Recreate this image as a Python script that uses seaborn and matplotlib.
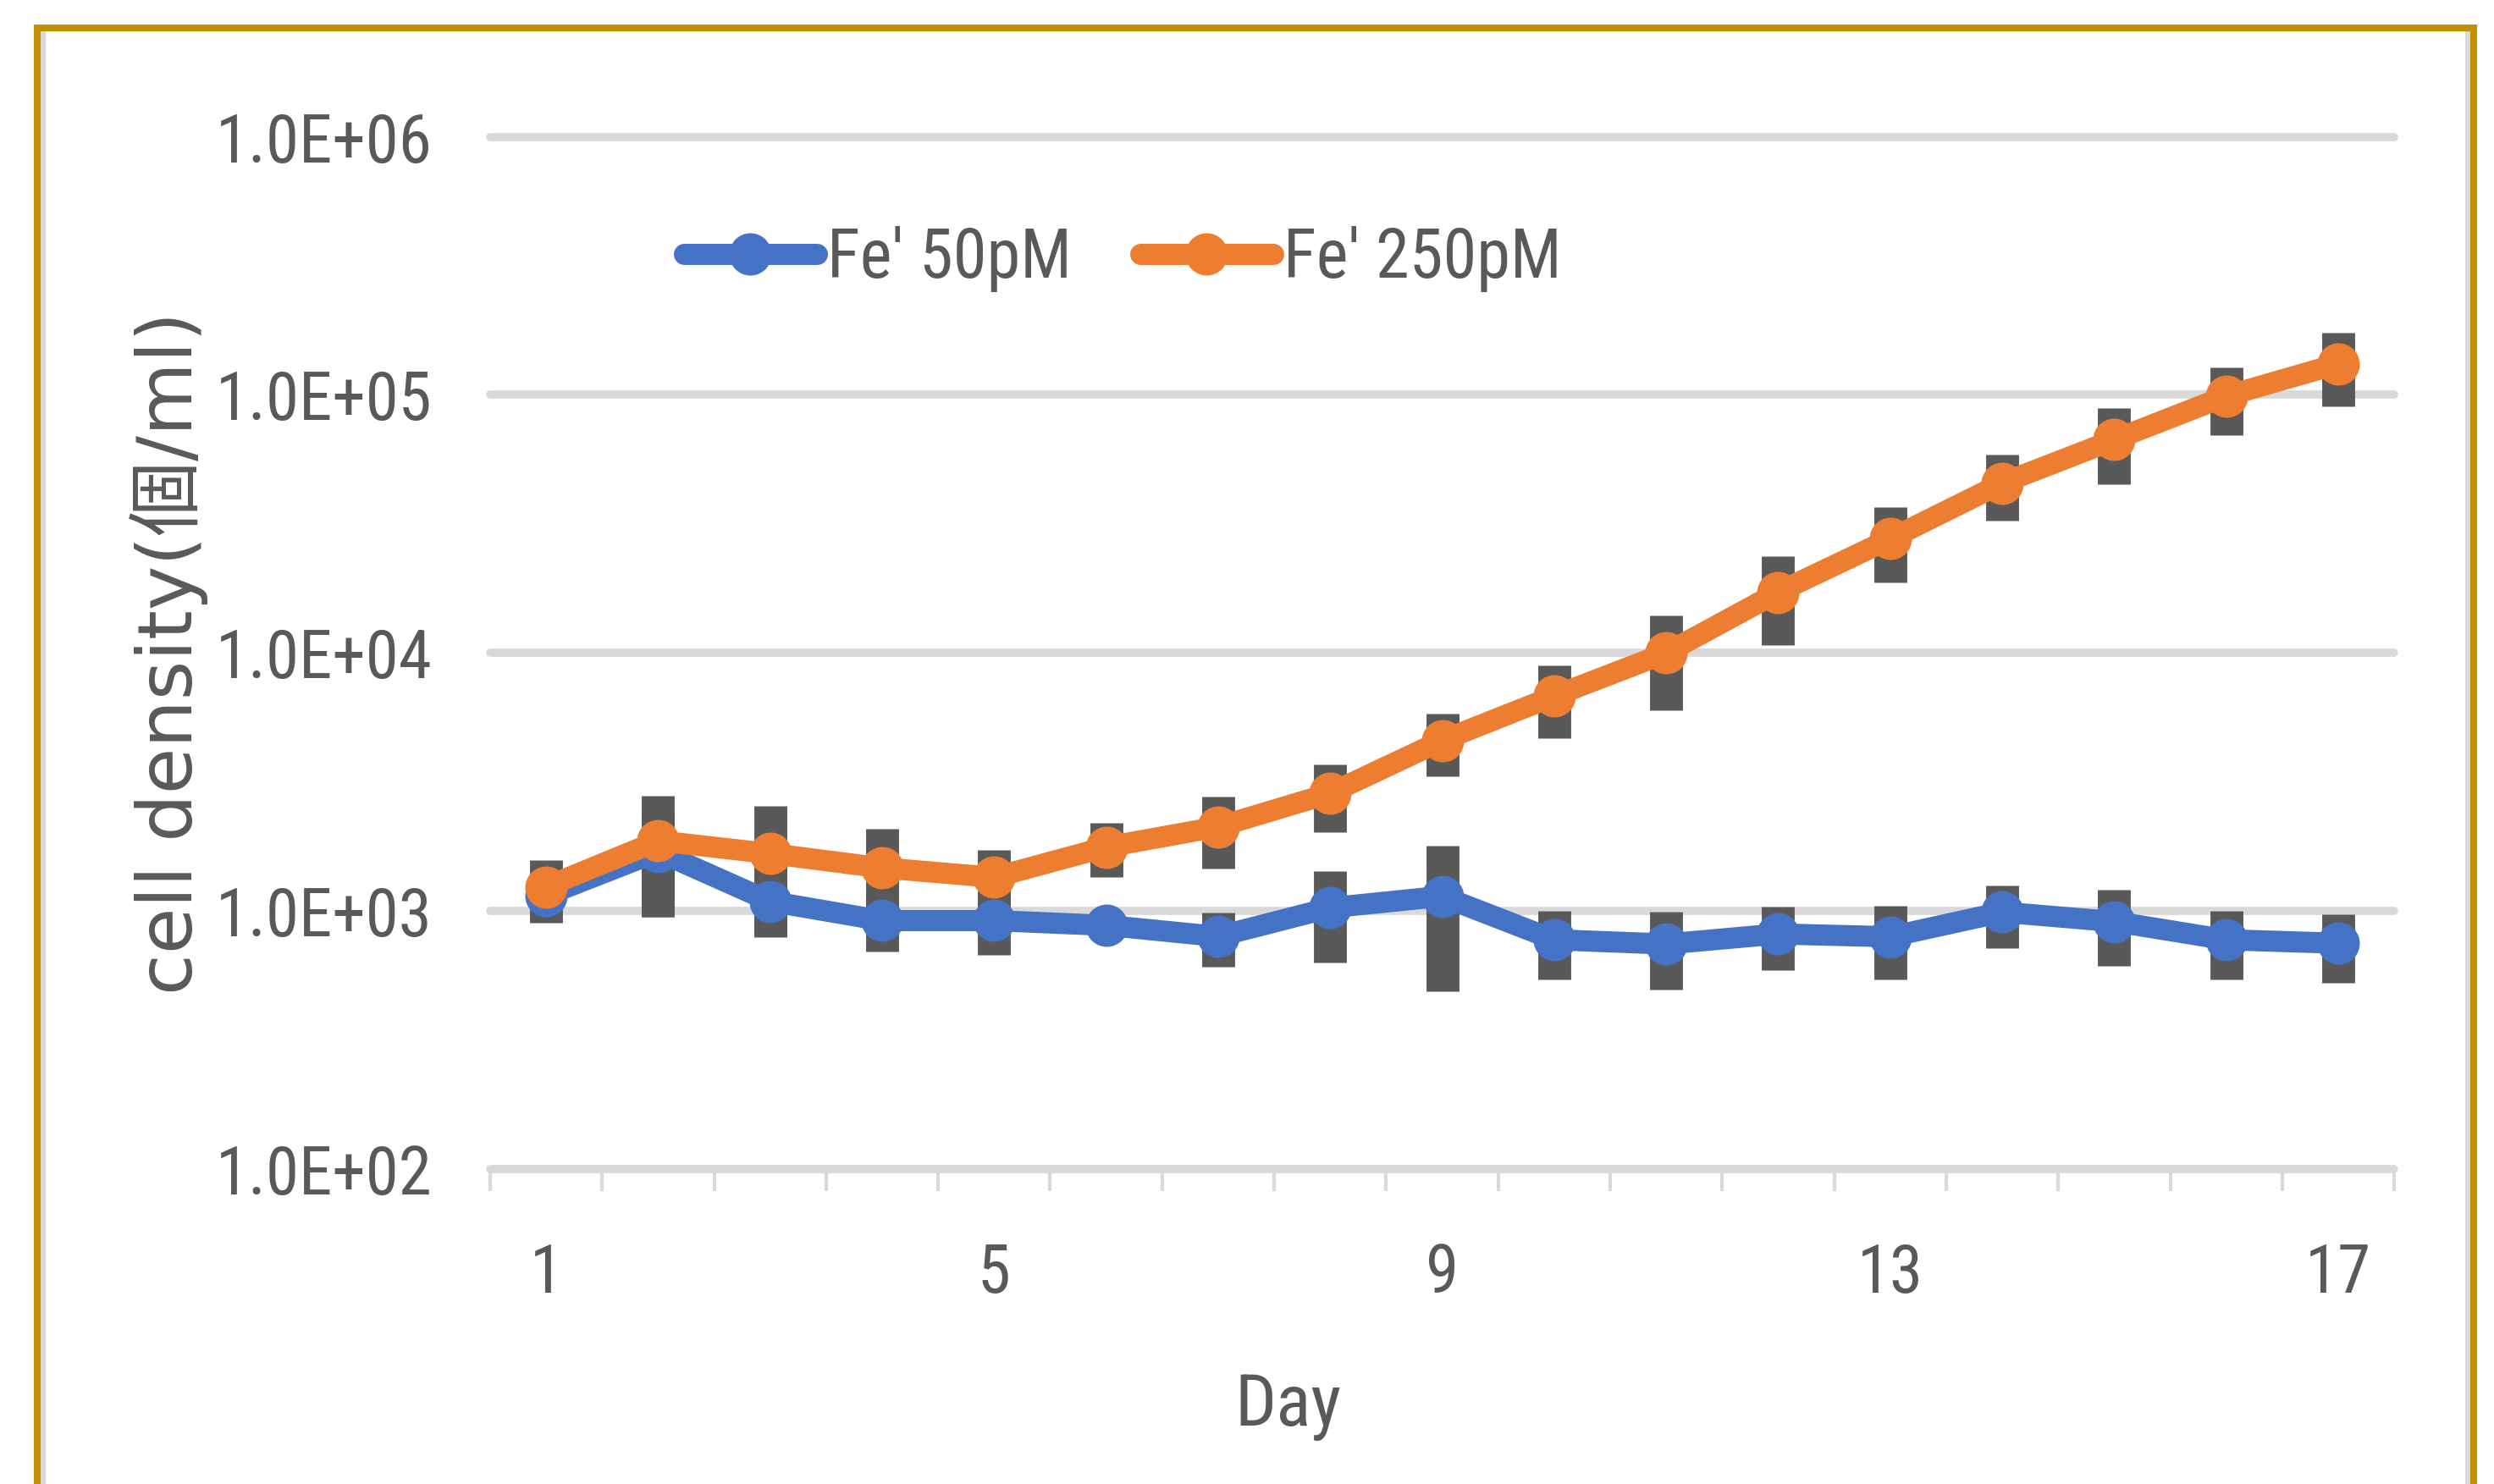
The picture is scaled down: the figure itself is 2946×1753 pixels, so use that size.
import numpy as np
import pandas as pd
import seaborn as sns
import matplotlib.pyplot as plt
from matplotlib import font_manager as fm
from matplotlib.patches import Rectangle
from matplotlib.lines import Line2D
from matplotlib.ticker import FixedLocator, FuncFormatter

# values (cells/ml)
days = list(range(1, 18))
fe50 = [1150, 1700, 1090, 918, 918, 880, 797, 1030, 1140, 774, 745, 815, 795, 990, 910, 774, 750]
fe50_err = [100, 750, 290, 220, 240, 100, 190, 400, 650, 230, 250, 225, 250, 270, 295, 230, 225]
fe250 = [1240, 1870, 1670, 1470, 1350, 1770, 2120, 2860, 4580, 6810, 10000, 17200, 27700,
         45500, 67000, 99000, 132000]
fe250_err = [340, 920, 880, 620, 370, 420, 660, 840, 1240, 2150, 4000, 6500, 9000,
             13000, 22000, 29000, 42000]
y_ticks = [1e2, 1e3, 1e4, 1e5, 1e6]
x_labels = [1, 5, 9, 13, 17]

df = pd.DataFrame({'day': days, 'fe50': fe50, 'fe250': fe250})

sns.set_style('white')
plt.rcParams['font.family'] = ['Liberation Sans', 'DejaVu Sans']
txt = '#595959'
grid = '#D9D9D9'


# the chart text is narrow, look for a condensed face that is installed
def find_narrow():
    prefs = ['Liberation Sans Narrow', 'Arial Narrow', 'Roboto Condensed', 'Open Sans Condensed',
             'Noto Sans', 'DejaVu Sans']
    for name in prefs:
        for f in fm.fontManager.ttflist:
            if f.name != name or f.style != 'normal':
                continue
            if f.weight not in (400, 'normal', 'regular', 'book'):
                continue
            narrow = ('Narrow' in name or 'Condensed' in name
                      or str(f.stretch) in ('condensed', 'semi-condensed', 'extra-condensed')
                      or 'Condensed' in f.fname)
            if narrow:
                return name, f.fname
    return None, None


nname, nfile = find_narrow()
if nfile:
    scale = {'DejaVu Sans': 0.85}.get(nname, 1.0)
    fp = lambda s: fm.FontProperties(fname=nfile, size=s * scale)
else:
    fp = lambda s: fm.FontProperties(family=['Liberation Sans', 'DejaVu Sans'], size=s * 0.8)

fig = plt.figure(figsize=(29.46, 17.53), dpi=100)
ax = fig.add_axes([0.1965, 0.2122, 0.7635, 0.6956])

ax.errorbar(days, fe50, yerr=fe50_err, fmt='none', ecolor='#595959', elinewidth=28, capsize=0, zorder=2)
ax.errorbar(days, fe250, yerr=fe250_err, fmt='none', ecolor='#595959', elinewidth=28, capsize=0, zorder=2)

sns.lineplot(data=df, x='day', y='fe50', ax=ax, color='#4472C4', linewidth=18, marker='o',
             markersize=36, markeredgewidth=0, label="Fe' 50pM", zorder=3)
sns.lineplot(data=df, x='day', y='fe250', ax=ax, color='#ED7D31', linewidth=18, marker='o',
             markersize=36, markeredgewidth=0, label="Fe' 250pM", zorder=4)

ax.set_yscale('log')
ax.set_ylim(1e2, 1e6)
ax.set_xlim(0.5, 17.5)
ax.yaxis.set_major_locator(FixedLocator(y_ticks))
ax.yaxis.set_minor_locator(FixedLocator([]))
ax.yaxis.set_major_formatter(FuncFormatter(lambda v, p: f'{v:.1E}'))
ax.set_xticks(x_labels)
ax.set_xticks(np.arange(0.5, 18, 1), minor=True)

ax.yaxis.grid(True, color=grid, linewidth=7)
ax.xaxis.grid(False)
for gl in ax.get_ygridlines():
    gl.set_clip_on(False)
for s in ax.spines.values():
    s.set_visible(False)

ax.tick_params(axis='y', which='major', length=0, pad=49, labelcolor=txt)
ax.tick_params(axis='x', which='major', length=0, pad=62, labelcolor=txt)
ax.tick_params(axis='x', which='minor', length=19, width=3, color=grid, direction='out', bottom=True)
for lbl in ax.get_xticklabels() + ax.get_yticklabels():
    lbl.set_fontproperties(fp(57))

ax.set_xlabel('Day', fontproperties=fp(62), color=txt)
ax.xaxis.set_label_coords(0.419, -0.197)
ax.set_ylabel('cell density(個/ml)', fontsize=64, color=txt,
              family=['DejaVu Sans', 'Noto Sans CJK JP'])
ax.yaxis.set_label_coords(-0.148, 0.5)

ax.legend(ncol=2, loc='center left', bbox_to_anchor=(0.1018, 0.8816), frameon=False,
          prop=fp(58), labelcolor=txt, handlelength=1.95, handletextpad=0.15,
          columnspacing=1.0, borderpad=0, borderaxespad=0)

# gold outer frame with thin grey inner edge
fig.add_artist(Rectangle((0.01477, -0.05), 0.97725, 1.03118, transform=fig.transFigure,
                         fill=False, edgecolor='#C09000', linewidth=5.8, zorder=10))
for xx in (0.01731, 0.98931):
    fig.add_artist(Line2D([xx, xx], [-0.05, 0.9789], transform=fig.transFigure,
                          color=grid, linewidth=4.3, zorder=9))

fig.savefig('out.png', dpi=100)
